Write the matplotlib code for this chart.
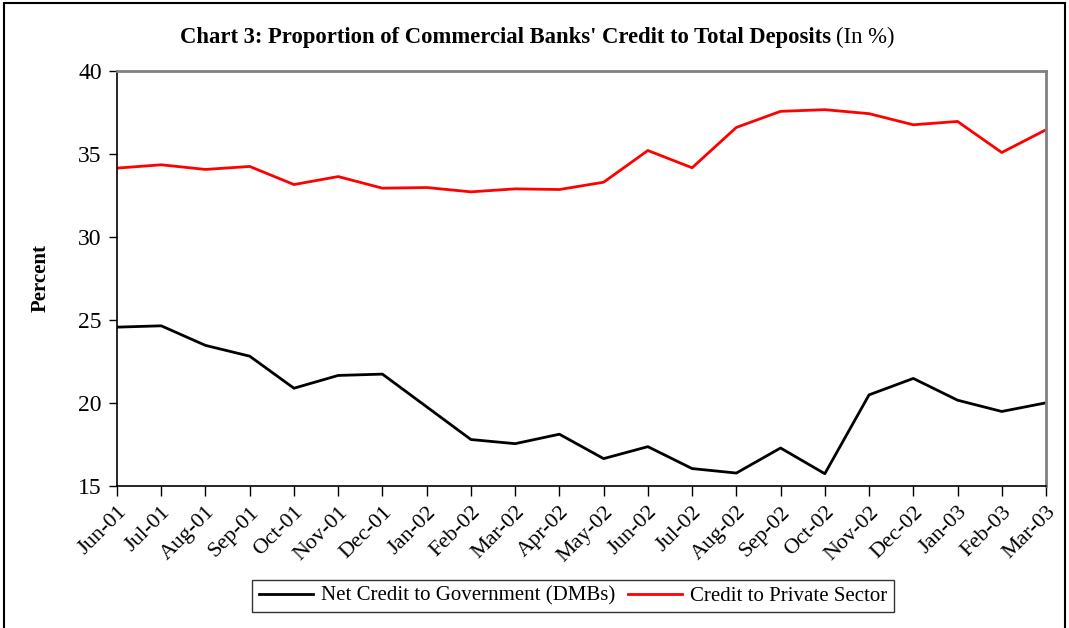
import matplotlib
matplotlib.use('Agg')
import matplotlib.pyplot as plt
from matplotlib.patches import Rectangle

months = ['Jun-01', 'Jul-01', 'Aug-01', 'Sep-01', 'Oct-01', 'Nov-01', 'Dec-01',
          'Jan-02', 'Feb-02', 'Mar-02', 'Apr-02', 'May-02', 'Jun-02', 'Jul-02',
          'Aug-02', 'Sep-02', 'Oct-02', 'Nov-02', 'Dec-02', 'Jan-03', 'Feb-03',
          'Mar-03']
net_credit_govt = [24.57, 24.65, 23.47, 22.82, 20.89, 21.66, 21.74, 19.77, 17.80,
                   17.55, 18.12, 16.65, 17.37, 16.05, 15.78, 17.29, 15.74, 20.49,
                   21.48, 20.17, 19.49, 20.01]
credit_private = [34.15, 34.35, 34.07, 34.25, 33.16, 33.64, 32.94, 32.98, 32.72,
                  32.90, 32.86, 33.30, 35.21, 34.17, 36.60, 37.57, 37.67, 37.43,
                  36.76, 36.96, 35.09, 36.46]

plt.rcParams['font.family'] = ['Liberation Serif', 'DejaVu Serif']

W, H = 1069, 628
fig = plt.figure(figsize=(W / 100, H / 100), dpi=100)
ax = fig.add_axes([117 / W, 1 - 486 / H, (1046 - 117) / W, (486 - 71) / H])

x = range(len(months))
ax.plot(x, net_credit_govt, color='black', lw=2, label='Net Credit to Government (DMBs)')
ax.plot(x, credit_private, color='#ff0000', lw=2, label='Credit to Private Sector')

ax.set_xlim(0, len(months) - 1)
ax.set_ylim(15, 40)
ax.set_yticks(range(15, 41, 5))
ax.set_xticks(list(x))
ax.set_xticklabels(months, rotation=45, ha='right', rotation_mode='anchor', fontsize=16)
ax.tick_params(axis='y', labelsize=17, direction='out', length=6, width=1, pad=5)
ax.tick_params(axis='x', direction='out', length=7, width=1, pad=5)

for side in ('top', 'right'):
    ax.spines[side].set_color('#808080')
    ax.spines[side].set_linewidth(2)
for side in ('left', 'bottom'):
    ax.spines[side].set_color('black')
    ax.spines[side].set_linewidth(1.2)

ax.set_ylabel('Percent', fontsize=15, fontweight='bold', labelpad=20)

# title: bold part then plain unit note
fig.text(0.777, 0.94, "Chart 3: Proportion of Commercial Banks' Credit to Total Deposits",
         ha='right', va='center', fontsize=16.3, fontweight='bold')
fig.text(0.782, 0.94, '(In %)', ha='left', va='center', fontsize=16.3)

leg = fig.legend(loc='center', bbox_to_anchor=(573 / W, 1 - 596 / H), ncol=2,
                 fontsize=15, frameon=True, fancybox=False, edgecolor='black',
                 handlelength=2.6, handletextpad=0.4, columnspacing=0.6,
                 borderpad=0.3)
leg.get_frame().set_linewidth(1)

fig.patches.append(Rectangle((4 / W, -0.02), (1065 - 4) / W, 1.02 - 3 / H,
                             transform=fig.transFigure, fill=False,
                             edgecolor='black', lw=1.5))

fig.savefig('out.png', dpi=100)
